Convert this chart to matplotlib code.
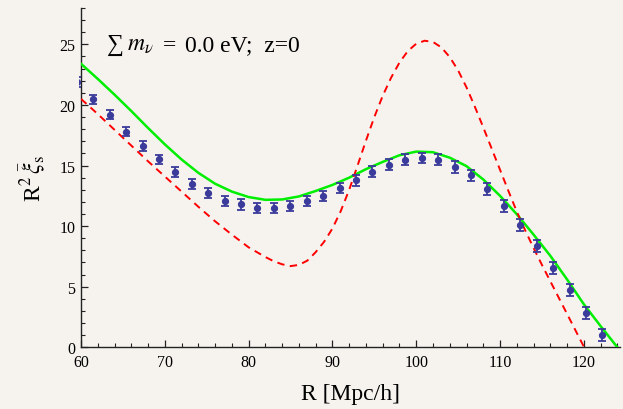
import numpy as np
import matplotlib
matplotlib.use('Agg')
from matplotlib import pyplot as plt
from matplotlib.ticker import MultipleLocator
from matplotlib.transforms import Bbox, TransformedBbox

# measured points (blue, with error bars)
r_pts = [59.5, 61.46, 63.42, 65.38, 67.34, 69.30, 71.26, 73.22, 75.18, 77.14,
         79.10, 81.06, 83.02, 84.98, 86.94, 88.90, 90.86, 92.82, 94.78, 96.74,
         98.70, 100.66, 102.62, 104.58, 106.54, 108.50, 110.46, 112.42, 114.38,
         116.34, 118.30, 120.26, 122.22]
xi_pts = [21.9, 20.46, 19.2, 17.79, 16.61, 15.5, 14.46, 13.47, 12.75, 12.07,
          11.79, 11.49, 11.49, 11.65, 12.07, 12.48, 13.14, 13.77, 14.49, 15.07,
          15.48, 15.62, 15.48, 14.88, 14.18, 13.06, 11.65, 10.1, 8.35,
          6.55, 4.74, 2.81, 1.02]
err_pts = [0.38, 0.38, 0.38, 0.39, 0.39, 0.4, 0.4, 0.4, 0.41, 0.41,
           0.42, 0.42, 0.42, 0.43, 0.43, 0.43, 0.44, 0.44, 0.44, 0.45,
           0.45, 0.45, 0.46, 0.46, 0.46, 0.47, 0.47, 0.48, 0.48,
           0.49, 0.5, 0.5, 0.5]

# green model curve
r_green = [60, 62, 64, 66, 68, 70, 72, 74, 76, 78, 80, 82, 84, 86, 88, 90,
           92, 94, 96, 98, 100, 102, 104, 106, 108, 110, 112, 114, 116, 118,
           120, 122, 124]
xi_green = [23.4, 22.15, 20.85, 19.5, 18.1, 16.75, 15.5, 14.4, 13.5, 12.85, 12.4,
            12.17, 12.2, 12.45, 12.9, 13.4, 14.0, 14.7, 15.3, 15.85, 16.15,
            16.1, 15.65, 14.95, 13.85, 12.5, 10.98, 9.3, 7.55, 5.6, 3.55,
            1.75, 0.0]

# red dashed model curve
r_red = [60, 62, 64, 66, 68, 70, 72, 74, 76, 78, 80, 81, 82, 83, 84, 85, 86,
         87, 88, 89, 90, 91, 92, 93, 94, 95, 96, 97, 98, 99, 100, 101, 102,
         103, 104, 105, 106, 107, 108, 109, 110, 111, 112, 113, 114, 115, 116,
         117, 118, 119, 120, 121]
xi_red = [20.5, 19.25, 17.95, 16.65, 15.35, 14.1, 12.85, 11.6, 10.4, 9.3, 8.25,
          7.85, 7.45, 7.1, 6.85, 6.7, 6.8, 7.15, 7.85, 8.7, 9.8, 11.25, 13.0,
          15.0, 17.05, 19.0, 20.75, 22.25, 23.5, 24.45, 25.05, 25.3, 25.2,
          24.75, 23.95, 22.85, 21.45, 19.85, 18.15, 16.4, 14.65, 12.9, 11.2,
          9.65, 8.2, 6.8, 5.45, 4.1, 2.75, 1.4, 0.05, -1.3]

bg = '#f6f3ef'
plt.rcParams['font.family'] = ['Liberation Serif', 'STIXGeneral', 'DejaVu Serif']
plt.rcParams['mathtext.fontset'] = 'stix'

fig = plt.figure(figsize=(6.23, 4.10), dpi=100, facecolor=bg)
ax = fig.add_axes([0.130, 0.1505, 0.865, 0.8275])
ax.set_facecolor(bg)

ax.plot(r_green, xi_green, color='#00ee00', lw=1.8, zorder=3)
ax.plot(r_red, xi_red, color='#ff0000', lw=1.4, linestyle=(0, (3.8, 2.8)), zorder=3)
eb = ax.errorbar(r_pts, xi_pts, yerr=err_pts, fmt='o', color='#3b3b9b', ms=4.2,
                 elinewidth=1.3, capsize=2.6, capthick=1.3, zorder=4)
# the plot region reaches a few pixels left of the axis line
clip = TransformedBbox(Bbox([[-0.004, 0.0], [1.0, 1.0]]), ax.transAxes)
for art in [eb.lines[0]] + list(eb.lines[1]) + list(eb.lines[2]):
    art.set_clip_box(clip)

ax.set_xlim(60, 124.3)
ax.set_ylim(0, 28)
ax.xaxis.set_major_locator(MultipleLocator(10))
ax.xaxis.set_minor_locator(MultipleLocator(2))
ax.yaxis.set_major_locator(MultipleLocator(5))
ax.yaxis.set_minor_locator(MultipleLocator(1))
ax.tick_params(which='both', direction='in', color='#222222', labelsize=11.5)
ax.tick_params(which='major', length=5, width=0.9)
ax.tick_params(which='minor', length=2.6, width=0.8)
ax.tick_params(axis='x', pad=5)
ax.tick_params(axis='y', pad=4)
for s in ['top', 'right']:
    ax.spines[s].set_visible(False)
for s in ['left', 'bottom']:
    ax.spines[s].set_linewidth(1.0)
    ax.spines[s].set_color('#222222')

ax.set_xlabel('R [Mpc/h]', fontsize=17, labelpad=9)
ax.set_ylabel(r'R$^2\,\bar{\xi}_{\rm s}$', fontsize=17, labelpad=9)

# label in the top left, pieces placed as in the original layout
label_parts = ['∑', r'$m_\nu$', '=', '0.0 eV;  z=0']
label_px = [107, 127, 163, 185]
base_y = 1 - (51 - 9) / 339.0
for txt, px in zip(label_parts, label_px):
    ax.text((px - 81) / 539.0, base_y, txt, transform=ax.transAxes,
            fontsize=17, va='baseline', ha='left')

fig.savefig('out.png', dpi=100, facecolor=bg)
